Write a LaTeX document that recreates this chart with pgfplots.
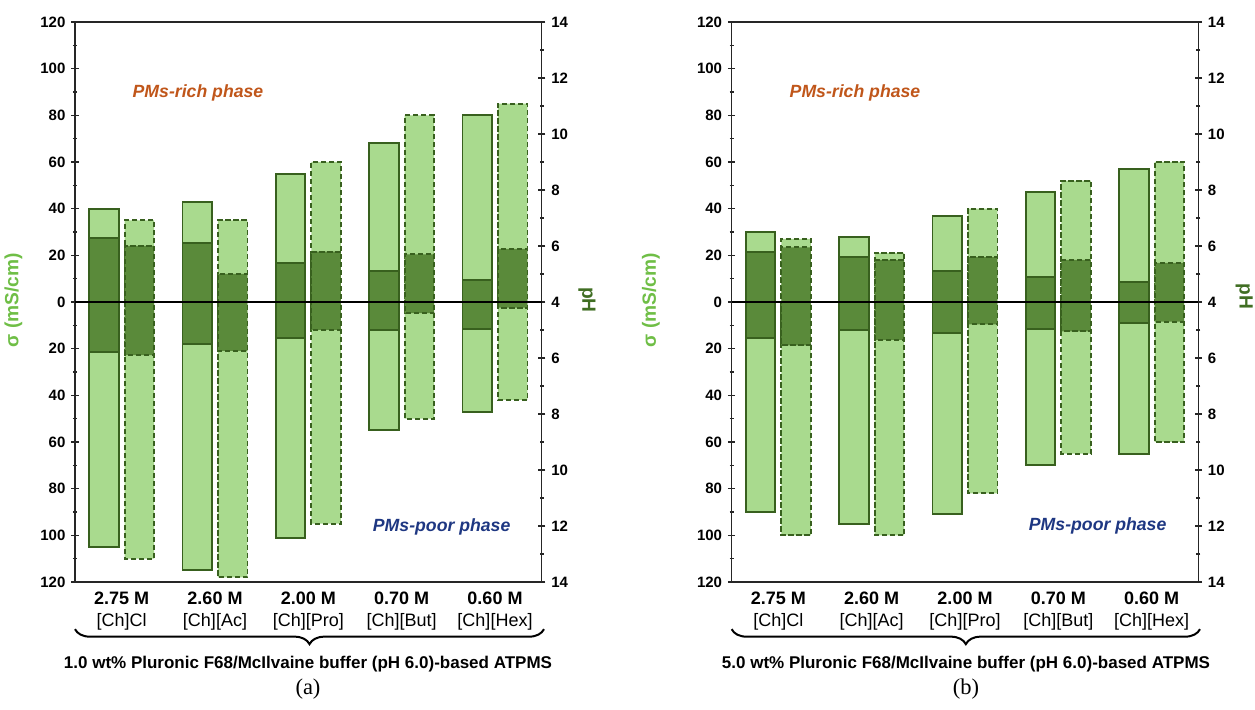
\documentclass[border=0pt]{standalone}
\usepackage{pgfplots}
\pgfplotsset{compat=1.18}
\usepackage{pgfplotstable}
\usepackage{fontspec}
\setmainfont{Liberation Sans}
\newfontfamily\timesfont{Liberation Serif}
\usetikzlibrary{decorations.pathreplacing}
\definecolor{lg}{HTML}{A9DA8E}
\definecolor{dkf}{HTML}{5A8A3A}
\definecolor{dg}{HTML}{38601E}
\definecolor{siglab}{HTML}{6FBE46}
\definecolor{phlab}{HTML}{406E23}
\definecolor{richc}{HTML}{C0561A}
\definecolor{poorc}{HTML}{1E3782}

% x  s1 s1p p1 p1p  s2 s2p p2 p2p
\pgfplotstableread{
x s1 s1p p1 p1p s2 s2p p2 p2p
0 40 105 6.3 5.8 35 110 6.0 5.9
1 43 115 6.1 5.5 35 118 5.0 5.75
2 55 101 5.4 5.3 60 95 5.8 5.0
3 68 55 5.1 5.0 80 50 5.7 4.4
4 80 47 4.8 4.95 85 42 5.9 4.2
}\dataA
\pgfplotstableread{
x s1 s1p p1 p1p s2 s2p p2 p2p
0 30 90 5.8 5.3 27 100 5.95 5.55
1 28 95 5.6 5.0 21 100 5.5 5.35
2 37 91 5.1 5.1 40 82 5.6 4.8
3 47 70 4.9 4.95 52 65 5.5 5.05
4 57 65 4.7 4.75 60 60 5.4 4.7
}\dataB

\pgfplotsset{
  base/.style={
    anchor=south west, scale only axis, width=280pt, height=336pt,
    xmin=-0.5, xmax=4.5, clip=true,
    axis line style={line width=0.8pt, black!85},
    tick style={line width=0.8pt, black!85},
    tick align=center, major tick length=4.5pt, minor tick length=2.5pt,
    minor y tick num=1,
    yticklabel style={font=\bfseries\fontsize{9}{10}\selectfont},
  },
  sig/.style={base,
    ymin=-120, ymax=120,
    ytick={-120,-100,...,120},
    yticklabels={120,100,80,60,40,20,0,20,40,60,80,100,120},
    ytick pos=left,
    xtick={0,1,2,3,4},
    xticklabels={{\textbf{2.75 M}\\{[Ch]Cl}},{\textbf{2.60 M}\\{[Ch][Ac]}},{\textbf{2.00 M}\\{[Ch][Pro]}},{\textbf{0.70 M}\\{[Ch][But]}},{\textbf{0.60 M}\\{[Ch][Hex]}}},
    xticklabel style={align=center, font=\fontsize{10.8}{13.5}\selectfont},
    x tick style={draw=none},
  },
  ph/.style={base,
    ymin=-10, ymax=10,
    ytick={-10,-8,...,10},
    yticklabels={14,12,10,8,6,4,6,8,10,12,14},
    axis y line*=right, ytick pos=right,
    hide x axis,
  },
  lbarA/.style={ybar, bar width=0.316, bar shift=-0.19, fill=lg, draw=dg, line width=1.1pt},
  lbarB/.style={ybar, bar width=0.316, bar shift=0.19, fill=lg, draw=dg, line width=1.1pt, dash pattern=on 3.2pt off 1.6pt},
  dbarA/.style={ybar, bar width=0.316, bar shift=-0.19, fill=dkf, draw=dg, line width=1.1pt},
  dbarB/.style={ybar, bar width=0.316, bar shift=0.19, fill=dkf, draw=dg, line width=1.1pt, dash pattern=on 3.2pt off 1.6pt},
}

\newcommand{\panel}[2]{%
  \begin{axis}[sig, at={(#1,76.8pt)}]
    \addplot[lbarA] table[x=x, y=s1]{#2};
    \addplot[lbarA] table[x=x, y expr=-\thisrow{s1p}]{#2};
    \addplot[lbarB] table[x=x, y=s2]{#2};
    \addplot[lbarB] table[x=x, y expr=-\thisrow{s2p}]{#2};
  \end{axis}
  \begin{axis}[ph, at={(#1,76.8pt)}]
    \addplot[dbarA] table[x=x, y expr=\thisrow{p1}-4]{#2};
    \addplot[dbarA] table[x=x, y expr=4-\thisrow{p1p}]{#2};
    \addplot[dbarB] table[x=x, y expr=\thisrow{p2}-4]{#2};
    \addplot[dbarB] table[x=x, y expr=4-\thisrow{p2p}]{#2};
    \addplot[black, line width=0.8pt, forget plot] coordinates {(-0.5,0) (4.5,0)};
  \end{axis}
}

\begin{document}
\begin{tikzpicture}
\useasboundingbox (0,0) rectangle (753pt,426pt);

\panel{45pt}{\dataA}
\panel{439pt}{\dataB}

% axis titles
\node[rotate=90, text=siglab, font=\bfseries\fontsize{11.5}{13}\selectfont] at (8pt,246pt) {σ (mS/cm)};
\node[rotate=90, text=siglab, font=\bfseries\fontsize{11.5}{13}\selectfont] at (390.6pt,246pt) {σ (mS/cm)};
\node[rotate=-90, text=phlab, font=\bfseries\fontsize{11.5}{13}\selectfont] at (352.2pt,246pt) {pH};
\node[rotate=-90, text=phlab, font=\bfseries\fontsize{11.5}{13}\selectfont] at (746.5pt,248pt) {pH};

% phase labels
\node[text=richc, font=\bfseries\itshape\fontsize{10.6}{12}\selectfont] at (118.8pt,370.2pt) {PMs-rich phase};
\node[text=poorc, font=\bfseries\itshape\fontsize{10.6}{12}\selectfont] at (265pt,110pt) {PMs-poor phase};
\node[text=richc, font=\bfseries\itshape\fontsize{10.6}{12}\selectfont] at (513pt,370.2pt) {PMs-rich phase};
\node[text=poorc, font=\bfseries\itshape\fontsize{10.6}{12}\selectfont] at (658.6pt,110.4pt) {PMs-poor phase};

% braces
\draw[line width=1.2pt, decorate, decoration={brace, mirror, amplitude=9pt}] (45pt,48.5pt) -- (326.4pt,48.5pt);
\draw[line width=1.2pt, decorate, decoration={brace, mirror, amplitude=9pt}] (439pt,48.5pt) -- (720pt,48.5pt);

% captions
\node[font=\bfseries\fontsize{10.2}{12}\selectfont] at (184.8pt,27.6pt) {1.0 wt\% Pluronic F68/McIlvaine buffer (pH 6.0)-based ATPMS};
\node[font=\bfseries\fontsize{10.2}{12}\selectfont] at (579.6pt,27.6pt) {5.0 wt\% Pluronic F68/McIlvaine buffer (pH 6.0)-based ATPMS};
\node[font=\timesfont\fontsize{13.5}{15}\selectfont] at (184.8pt,12.3pt) {(a)};
\node[font=\timesfont\fontsize{13.5}{15}\selectfont] at (579.6pt,12.3pt) {(b)};
\end{tikzpicture}
\end{document}
